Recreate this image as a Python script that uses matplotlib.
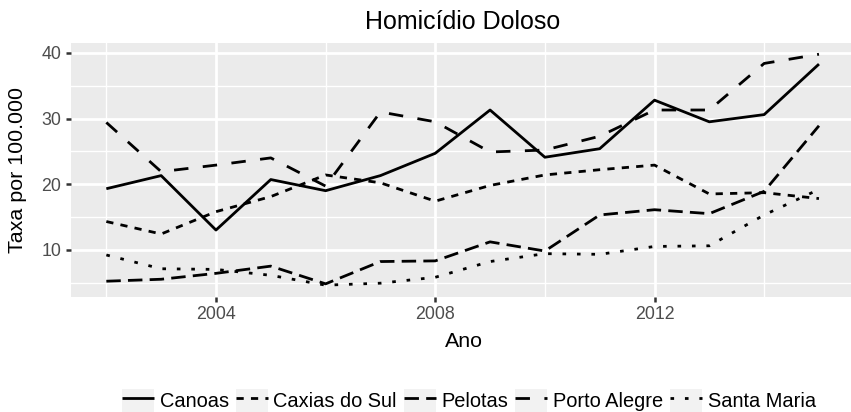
import numpy as np
import matplotlib
matplotlib.use("Agg")
import matplotlib.pyplot as plt
from matplotlib.lines import Line2D
from matplotlib.patches import Rectangle
from matplotlib.legend_handler import HandlerTuple, HandlerLine2D

plt.rcParams["font.family"] = ["Liberation Sans", "DejaVu Sans"]

# Dati: tasso di omicidio doloso per 100.000 abitanti
anni = np.arange(2002, 2016)
citta = ["Canoas", "Caxias do Sul", "Pelotas", "Porto Alegre", "Santa Maria"]

canoas = [19.3, 21.3, 13.0, 20.7, 19.0, 21.3, 24.7, 31.3, 24.1, 25.4, 32.8, 29.5, 30.6, 38.3]
caxias = [14.3, 12.4, 15.8, 18.1, 21.4, 20.2, 17.4, 19.8, 21.4, 22.2, 22.9, 18.5, 18.7, 17.8]
pelotas = [5.2, 5.5, 6.4, 7.5, 4.8, 8.2, 8.3, 11.2, 9.8, 15.3, 16.1, 15.5, 18.9, 28.9]
porto_alegre = [29.4, 21.9, 22.9, 24.0, 19.7, 31.0, 29.5, 24.9, 25.2, 27.3, 31.3, 31.3, 38.4, 39.8]
santa_maria = [9.2, 7.1, 7.0, 6.1, 4.6, 4.9, 5.8, 8.2, 9.4, 9.3, 10.5, 10.6, 15.3, 19.2]

serie = [canoas, caxias, pelotas, porto_alegre, santa_maria]

# Tipi di linea come in ggplot ("solid", "22", "42", "44", "13")
u = 1.3
stili = [(0, ()), (0, (2 * u, 2 * u)), (0, (4 * u, 2 * u)), (0, (4 * u, 4 * u)), (0, (1 * u, 3 * u))]

# Figura (stile ggplot)
fig = plt.figure(figsize=(8.51, 4.12), dpi=100)
ax = fig.add_axes([0.08308, 0.27985, 0.92115, 0.61650])
ax.set_facecolor("#EBEBEB")
for s in ax.spines.values():
    s.set_visible(False)

for nome, valori, ls in zip(citta, serie, stili):
    ax.plot(anni, valori, color="black", linewidth=2.0, linestyle=ls,
            dash_capstyle="butt", solid_joinstyle="miter", label=nome)

# Limiti con espansione del 5%
tutti = np.concatenate(serie)
dx = (anni.max() - anni.min()) * 0.05
dy = (tutti.max() - tutti.min()) * 0.05
ax.set_xlim(anni.min() - dx, anni.max() + dx)
ax.set_ylim(tutti.min() - dy, tutti.max() + dy)

ax.set_xticks([2004, 2008, 2012])
ax.set_xticks([2002, 2006, 2010, 2014], minor=True)
ax.set_yticks([10, 20, 30, 40])
ax.set_yticks([5, 15, 25, 35], minor=True)
ax.grid(which="major", color="white", linewidth=2.0)
ax.grid(which="minor", color="white", linewidth=1.0)
ax.set_axisbelow(True)
ax.tick_params(which="major", length=3.6, width=1.8, color="#333333",
               labelcolor="#4D4D4D", labelsize=12.8, pad=3.2)
ax.tick_params(which="minor", length=0)

# Titoli
ax.set_title("Homicídio Doloso", fontsize=18, pad=9.6)
ax.set_xlabel("Ano", fontsize=15.4)
ax.xaxis.set_label_coords((464 - 70.7) / 783.9, -(346.7 - 296.7) / 254)
ax.xaxis.label.set_va("baseline")
ax.set_ylabel("Taxa por 100.000", fontsize=15.4)
ax.yaxis.set_label_coords(-(70.7 - 17.5) / 783.9, 0.5)
ax.yaxis.label.set_va("center")

# Legenda con sfondo grigio delle chiavi
handles = []
for ls in stili:
    box = Rectangle((0, 0), 1, 1, facecolor="#F2F2F2", edgecolor="none")
    linea = Line2D([], [], color="black", linewidth=2.0, linestyle=ls, dash_capstyle="butt")
    handles.append((box, linea))

fig.legend(handles, citta, loc="center", bbox_to_anchor=(469 / 851, 1 - 400.7 / 412),
           ncol=5, frameon=False, fontsize=14.4, handlelength=1.6, handleheight=1.5,
           handletextpad=0.28, columnspacing=0.35, borderpad=0,
           handler_map={tuple: HandlerTuple(ndivide=1, pad=0),
                        Line2D: HandlerLine2D(marker_pad=0)})

fig.savefig("out.png", dpi=100)
